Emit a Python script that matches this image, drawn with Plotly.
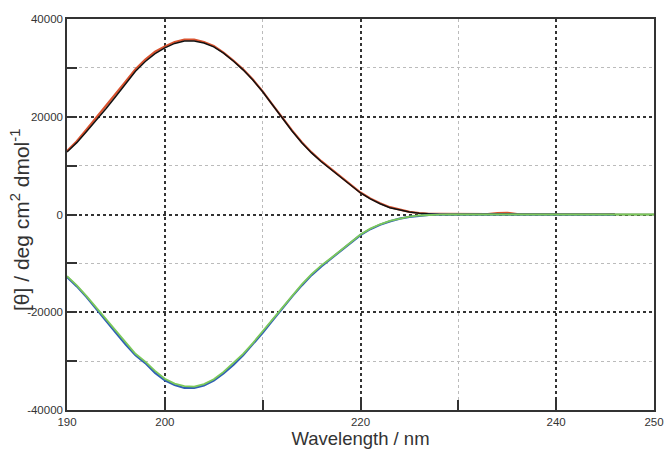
import plotly.graph_objects as go

wavelength = list(range(190, 251))

# positive CD spectrum (two repeats: red underneath, black on top)
black_vals = [12800, 14700, 17000, 19300, 21700, 24200, 26800, 29300, 31300, 32900,
              34100, 35000, 35500, 35500, 35100, 34300, 33000, 31400, 29600, 27500,
              25100, 22400, 19700, 17100, 14700, 12600, 10800, 9200, 7500, 5900,
              4400, 3200, 2200, 1400, 900, 500, 250, 80, 40, 0,
              30, 0, 20, 60, 30, 80, 60, 40, 30, 60,
              40, 20, 30, 10, 20, 0, 10, 0, 0, 0, 0]
red_vals = [13000, 15000, 17400, 19800, 22200, 24700, 27200, 29700, 31700, 33300,
            34400, 35300, 35800, 35800, 35300, 34500, 33100, 31500, 29700, 27600,
            25200, 22500, 19800, 17200, 14800, 12700, 10900, 9300, 7600, 6000,
            4500, 3300, 2300, 1500, 1000, 550, 300, 120, 120, 120,
            120, 60, 40, 80, 300, 350, 80, 60, 50, 80,
            60, 40, 60, 50, 60, 50, 100]

# negative CD spectrum (two repeats: blue underneath, green on top)
blue_vals = [-12800, -14700, -16900, -19400, -21800, -24200, -26600, -28800, -30400, -32400,
             -33900, -34900, -35500, -35500, -35000, -34000, -32500, -30800, -28800, -26600,
             -24200, -21700, -19200, -16800, -14500, -12400, -10600, -9000, -7400, -5900,
             -4200, -3000, -2100, -1400, -850, -500, -230, -80, -30, -20,
             -40, -20, -60, -80, -40, -20, -30, -20, -40, -20,
             -10, -20, -30, -10, -20, -10, -10]
green_vals = [-12600, -14500, -16700, -19100, -21500, -23900, -26300, -28500, -30100, -32000,
              -33600, -34600, -35100, -35200, -34700, -33700, -32200, -30400, -28500, -26300,
              -23900, -21400, -19000, -16600, -14300, -12200, -10400, -8900, -7300, -5800,
              -4100, -2900, -2000, -1300, -800, -450, -200, -60, -20, 0,
              0, 0, 0, 0, 0, 0, 0, 0, 0, 0,
              0, 0, 0, 0, 0, 0, 0, 0, 0, 0, 0]

x_major = [190, 200, 220, 240, 250]
x_major_text = ["190", "200", "220", "240", "250"]
x_minor = [210, 230]
y_major = [-40000, -20000, 0, 20000, 40000]
y_major_text = ["-40000", "-20000", "0", "20000", "40000"]
y_minor = [-30000, -10000, 10000, 30000]
y_title = "[θ] / deg cm<sup>2</sup> dmol<sup>-1</sup>"
x_title = "Wavelength / nm"

fig = go.Figure()
fig.add_trace(go.Scatter(x=wavelength[:len(red_vals)], y=red_vals, mode="lines",
                         line=dict(color="#d9532f", width=2.2), showlegend=False))
fig.add_trace(go.Scatter(x=wavelength, y=black_vals, mode="lines",
                         line=dict(color="#111111", width=1.5), showlegend=False))
fig.add_trace(go.Scatter(x=wavelength[:len(blue_vals)], y=blue_vals, mode="lines",
                         line=dict(color="#2f5fb5", width=2.2), showlegend=False))
fig.add_trace(go.Scatter(x=wavelength, y=green_vals, mode="lines",
                         line=dict(color="#7cc95a", width=1.8), showlegend=False))

FAM = "Liberation Sans, Arial, sans-serif"
axis_font = dict(family=FAM, size=11.5, color="#333333")

fig.update_layout(
    width=665, height=450,
    margin=dict(l=67, r=11, t=19, b=40),
    paper_bgcolor="white", plot_bgcolor="white",
    font=dict(family=FAM, color="#333333"),
    xaxis=dict(
        range=[190, 250], tickmode="array", tickvals=x_major, ticktext=x_major_text,
        ticks="inside", ticklen=10, tickwidth=1.5, tickcolor="#333333",
        showgrid=True, gridcolor="#333333", griddash="dot", gridwidth=1.5,
        minor=dict(tickmode="array", tickvals=x_minor, ticks="inside", ticklen=10,
                   tickwidth=1.5, tickcolor="#333333", showgrid=True,
                   gridcolor="#bbbbbb", griddash="dot", gridwidth=1),
        showline=True, linecolor="#333333", linewidth=1.5, mirror=True,
        zeroline=False, tickfont=axis_font, automargin=False,
        ticklabeloverflow="allow",
        title=dict(text=x_title, standoff=0,
                   font=dict(family=FAM, size=18.5, color="#333333")),
    ),
    yaxis=dict(
        range=[-40000, 40000], tickmode="array", tickvals=y_major, ticktext=y_major_text,
        ticks="inside", ticklen=10, tickwidth=1.5, tickcolor="#333333",
        showgrid=True, gridcolor="#333333", griddash="dot", gridwidth=1.5,
        minor=dict(tickmode="array", tickvals=y_minor, ticks="inside", ticklen=10,
                   tickwidth=1.5, tickcolor="#333333", showgrid=True,
                   gridcolor="#bbbbbb", griddash="dot", gridwidth=1),
        showline=True, linecolor="#333333", linewidth=1.5, mirror=True,
        zeroline=False, tickfont=axis_font, automargin=False,
    ),
    annotations=[dict(text=y_title, textangle=-90, xref="paper", yref="paper",
                      x=0, y=0.486, xshift=-47, xanchor="center", yanchor="middle",
                      showarrow=False, font=dict(family=FAM, size=21, color="#333333"))],
)

fig.write_html("out.html", config={"displayModeBar": False},
               post_script="document.body.style.margin='0';document.body.style.overflow='hidden';")
